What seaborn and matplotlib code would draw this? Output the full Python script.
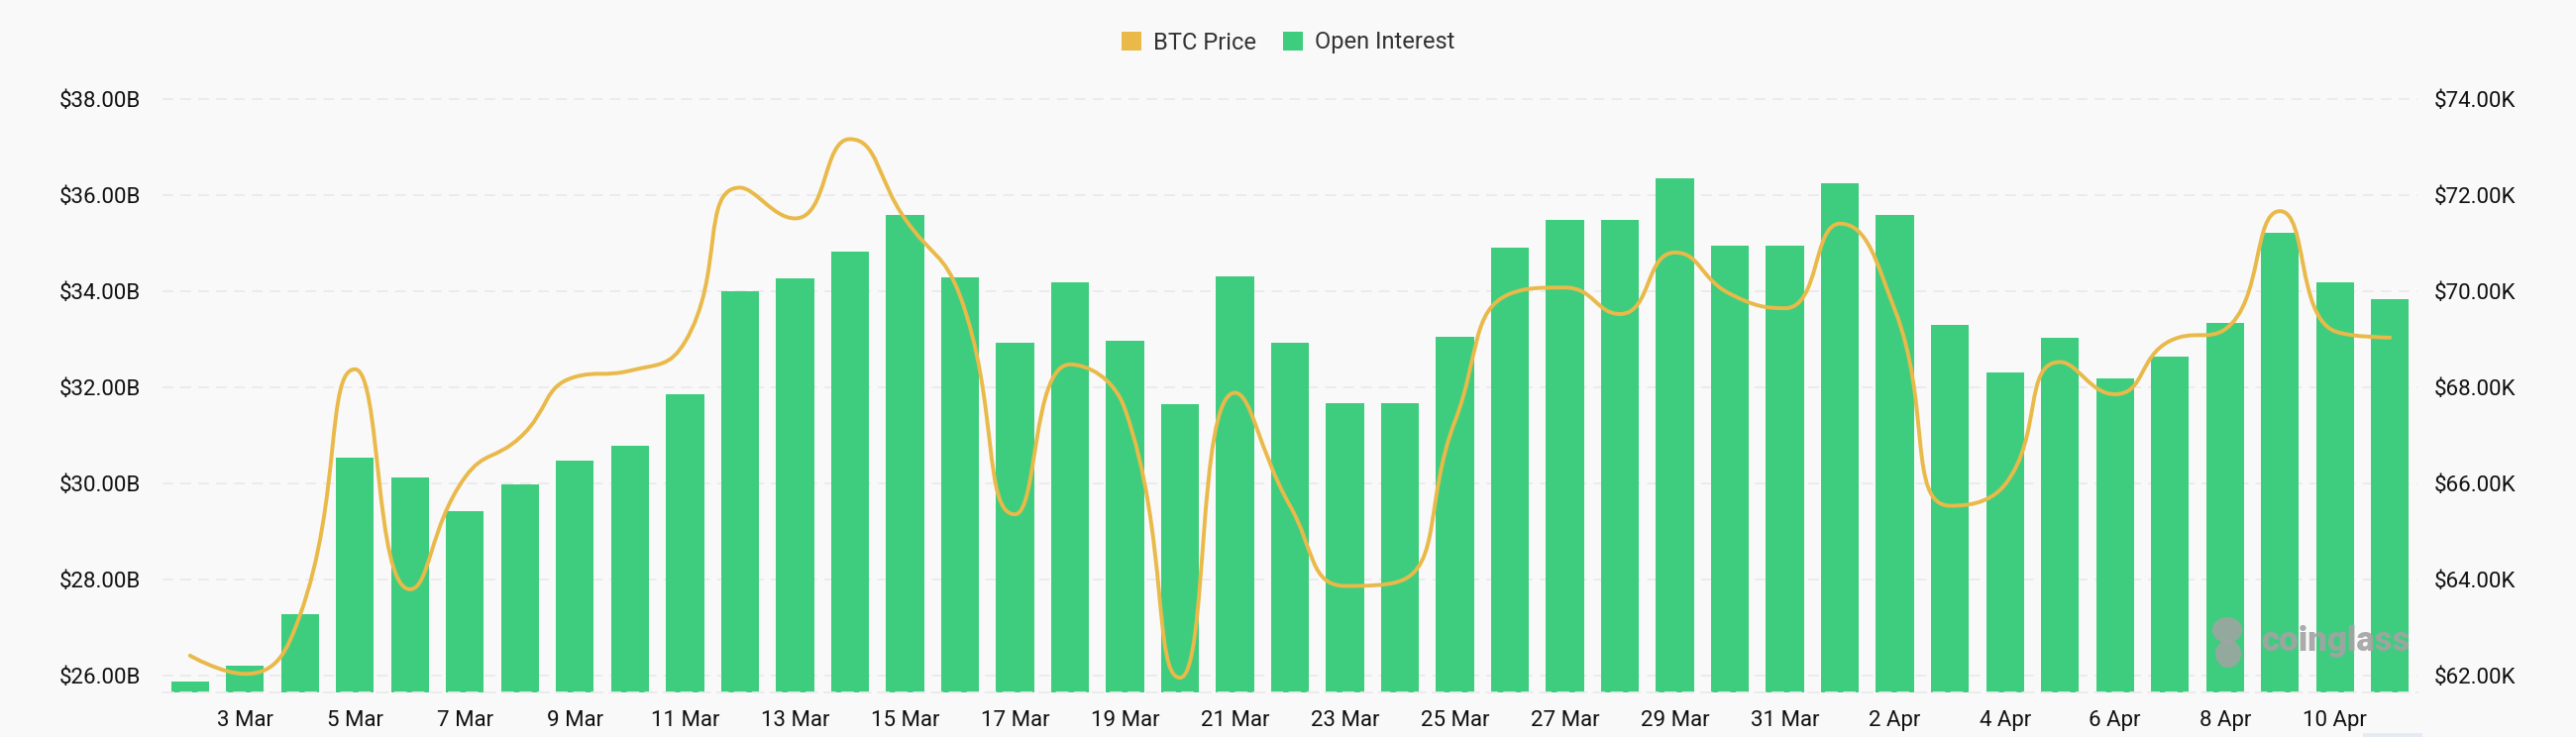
import numpy as np
import matplotlib
matplotlib.use("Agg")
import matplotlib.pyplot as plt
import seaborn as sns
from matplotlib.path import Path
from matplotlib.patches import PathPatch, Patch, Rectangle, Ellipse

# ---------------- data ----------------
dates = ["2 Mar", "3 Mar", "4 Mar", "5 Mar", "6 Mar", "7 Mar", "8 Mar", "9 Mar",
         "10 Mar", "11 Mar", "12 Mar", "13 Mar", "14 Mar", "15 Mar", "16 Mar",
         "17 Mar", "18 Mar", "19 Mar", "20 Mar", "21 Mar", "22 Mar", "23 Mar",
         "24 Mar", "25 Mar", "26 Mar", "27 Mar", "28 Mar", "29 Mar", "30 Mar",
         "31 Mar", "1 Apr", "2 Apr", "3 Apr", "4 Apr", "5 Apr", "6 Apr", "7 Apr",
         "8 Apr", "9 Apr", "10 Apr", "11 Apr"]

# Open interest, billions USD
open_interest_b = [25.88, 26.20, 27.27, 30.53, 30.11, 29.42, 29.98, 30.46, 30.77,
                   31.84, 33.99, 34.27, 34.82, 35.59, 34.29, 32.93, 34.17, 32.97,
                   31.65, 34.31, 32.93, 31.67, 31.66, 33.05, 34.90, 35.48, 35.47,
                   36.34, 34.94, 34.95, 36.25, 35.58, 33.29, 32.30, 33.02, 32.17,
                   32.63, 33.34, 35.22, 34.17, 33.82]

# BTC price, thousands USD
btc_price_k = [62.41, 62.03, 63.25, 68.37, 63.79, 66.12, 66.95, 68.21, 68.34,
               68.94, 72.15, 71.51, 73.16, 71.50, 69.90, 65.35, 68.47, 67.54,
               61.95, 67.88, 65.53, 63.86, 63.96, 67.29, 69.94, 70.07, 69.52,
               70.80, 69.94, 69.64, 71.40, 69.60, 65.53, 65.97, 68.52, 67.85,
               68.96, 69.20, 71.66, 69.16, 69.03]

left_ticks = [26, 28, 30, 32, 34, 36, 38]
right_ticks = [62, 64, 66, 68, 70, 72, 74]
series_names = ["BTC Price", "Open Interest"]

# ---------------- style ----------------
GREEN = "#3ECD7E"
GOLD = "#E9B949"
BG = "#F9F9F9"
GRID = "#EAEAEA"
WM = "#A3A3A3"
FONT = ["Roboto", "DejaVu Sans"]

sns.set_theme(style="white")
plt.rcParams["font.family"] = FONT

W, H = 2600, 744
fig = plt.figure(figsize=(W / 100, H / 100), dpi=100, facecolor=BG)
left_px, right_px = 164, 2440
bot_px, top_px = 699.3, 75.45
ax = fig.add_axes([left_px / W, 1 - bot_px / H, (right_px - left_px) / W,
                   (bot_px - top_px) / H])
ax.set_facecolor(BG)

sns.barplot(x=dates, y=open_interest_b, ax=ax, color=GREEN, saturation=1,
            width=0.69, linewidth=0, zorder=2)
ax.set_xlim(-0.5, len(dates) - 0.5)
ax.set_ylim(25.637, 38.5)
ax.set_axisbelow(True)

ax.set_yticks(left_ticks)
ax.set_yticklabels([f"${v:.2f}B" for v in left_ticks])
ax.grid(axis="y", color=GRID, linestyle=(0, (6, 4)), linewidth=1.3)
ax.grid(axis="x", visible=False)
ax.set_xticks(range(1, len(dates), 2))
ax.set_xticklabels(dates[1::2])
ax.tick_params(axis="x", length=0, pad=13, labelsize=16, labelcolor="#111111")
ax.tick_params(axis="y", length=0, pad=16, labelsize=16, labelcolor="#111111")
ax.set_xlabel("")
ax.set_ylabel("")
for s in ["top", "left", "right"]:
    ax.spines[s].set_visible(False)
ax.spines["bottom"].set_color(GRID)
ax.spines["bottom"].set_linestyle((0, (6, 4)))
ax.spines["bottom"].set_linewidth(1.3)

# ---------------- price line (ECharts-like smooth bezier) ----------------
ax2 = ax.twinx()
ax2.set_ylim(61.637, 74.5)
ax2.set_yticks(right_ticks)
ax2.set_yticklabels([f"${v:.2f}K" for v in right_ticks])
ax2.tick_params(axis="y", length=0, pad=12, labelsize=16, labelcolor="#111111")
for s in ax2.spines.values():
    s.set_visible(False)
ax2.grid(False)


def smooth_path(xs, ys, sx, sy, smooth=0.5):
    P = [(x * sx, y * sy) for x, y in zip(xs, ys)]
    verts = [P[0]]
    codes = [Path.MOVETO]
    cp0 = P[0]
    n = len(P)
    for i in range(1, n):
        x, y = P[i]
        px, py = P[i - 1]
        if i == n - 1:
            cp1 = (x, y)
            ncp0 = None
        else:
            nx, ny = P[i + 1]
            vx, vy = nx - px, ny - py
            lp = np.hypot(x - px, y - py)
            ln = np.hypot(nx - x, ny - y)
            r = ln / (ln + lp)
            ncx = x + vx * smooth * r
            ncy = y + vy * smooth * r
            ncx = min(ncx, max(nx, x)); ncy = min(ncy, max(ny, y))
            ncx = max(ncx, min(nx, x)); ncy = max(ncy, min(ny, y))
            vx, vy = ncx - x, ncy - y
            c1x = x - vx * lp / ln
            c1y = y - vy * lp / ln
            c1x = min(c1x, max(px, x)); c1y = min(c1y, max(py, y))
            c1x = max(c1x, min(px, x)); c1y = max(c1y, min(py, y))
            vx, vy = x - c1x, y - c1y
            ncx = x + vx * ln / lp
            ncy = y + vy * ln / lp
            cp1 = (c1x, c1y)
            ncp0 = (ncx, ncy)
        verts += [cp0, cp1, (x, y)]
        codes += [Path.CURVE4] * 3
        cp0 = ncp0
    v = np.array(verts, dtype=float)
    v[:, 0] /= sx
    v[:, 1] /= sy
    return Path(v, codes)


xpos = np.arange(len(dates))
path = smooth_path(xpos, btc_price_k, 55.54, 48.5)
ax2.add_patch(PathPatch(path, fill=False, edgecolor=GOLD, linewidth=2.8,
                        capstyle="round", joinstyle="round", zorder=3))

# ---------------- legend ----------------
handles = [Patch(facecolor=GOLD, edgecolor="none", label=series_names[0]),
           Patch(facecolor=GREEN, edgecolor="none", label=series_names[1])]
fig.legend(handles=handles, loc="center", bbox_to_anchor=(0.5, 1 - 43 / H),
           ncol=2, frameon=False, fontsize=17, handlelength=0.85,
           handleheight=0.85, handletextpad=0.5, columnspacing=1.15,
           labelcolor="#333333")

# ---------------- watermark ----------------
fig.text(2282 / W, 1 - 647 / H, "coinglass", fontsize=25, fontweight="heavy",
         color=WM, alpha=0.9, ha="left", va="center", zorder=5,
         family=["Roboto", "DejaVu Sans"])
# simple mascot silhouette
for (cx, cy, w, h) in [(2248, 636, 30, 26), (2249, 660, 26, 28)]:
    fig.patches.append(Ellipse((cx / W, 1 - cy / H), w / W, h / H,
                               transform=fig.transFigure, facecolor=WM,
                               edgecolor="none", alpha=0.85, zorder=5))
fig.patches.append(Rectangle((2385 / W, 0), 60 / W, 4 / H,
                             transform=fig.transFigure, facecolor="#E6EAF7",
                             edgecolor="none"))

fig.savefig("out.png", dpi=100, facecolor=BG)
